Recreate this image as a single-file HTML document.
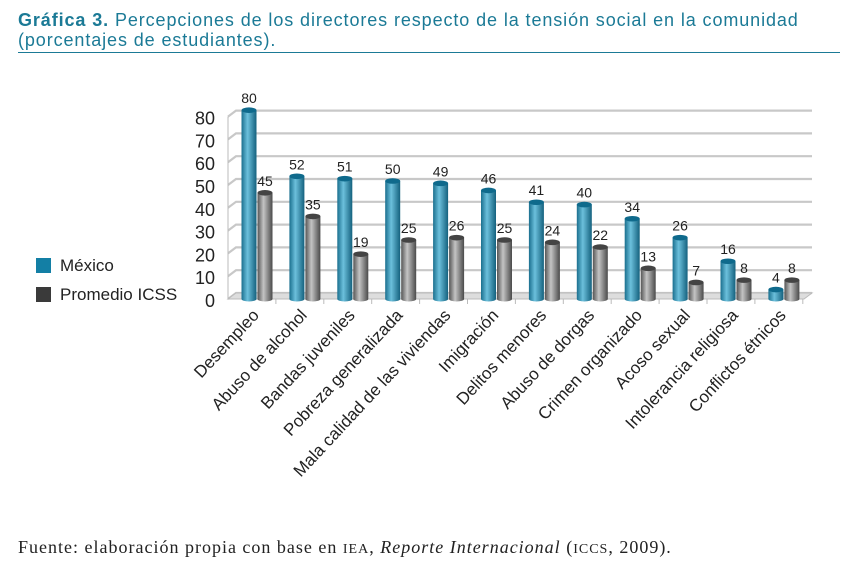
<!DOCTYPE html>
<html><head><meta charset="utf-8"><style>
body{margin:0;width:856px;height:566px;background:#fff;overflow:hidden;position:relative;font-family:"Liberation Sans",sans-serif}
.t{position:absolute;left:18px;top:10px;font-size:18px;line-height:20px;color:#1b7a96;letter-spacing:0.9px}
.rule{position:absolute;left:18px;top:52px;width:822px;height:1px;background:#1b7a96}
.foot{position:absolute;left:18px;top:537px;font-family:"Liberation Serif",serif;font-size:18px;color:#222;letter-spacing:1px}
</style></head><body>
<div class="t"><b>Gráfica 3.</b> Percepciones de los directores respecto de la tensión social en la comunidad<br>(porcentajes de estudiantes).</div>
<div class="rule"></div>
<svg id="c" width="856" height="566" style="position:absolute;left:0;top:0">
<defs>
<linearGradient id="gb" x1="0" x2="1"><stop offset="0" stop-color="#1a6f8e"/><stop offset="0.4" stop-color="#6cc0dc"/><stop offset="1" stop-color="#14617e"/></linearGradient>
<linearGradient id="gg" x1="0" x2="1"><stop offset="0" stop-color="#555"/><stop offset="0.4" stop-color="#c4c4c4"/><stop offset="1" stop-color="#4a4a4a"/></linearGradient>
</defs>
</svg>
<div class="foot">Fuente: elaboración propia con base en <span style="font-size:14px">IEA</span>, <i>Reporte Internacional</i> (<span style="font-size:14px">ICCS</span>, 2009).</div>
<script>
const categories=["Desempleo","Abuso de alcohol","Bandas juveniles","Pobreza generalizada","Mala calidad de las viviendas","Imigración","Delitos menores","Abuso de dorgas","Crimen organizado","Acoso sexual","Intolerancia religiosa","Conflictos étnicos"];
const mexico=[80,52,51,50,49,46,41,40,34,26,16,4];
const icss=[45,35,19,25,26,25,24,22,13,7,8,8];
const ticks=[0,10,20,30,40,50,60,70,80];
const seriesNames=["México","Promedio ICSS"];
const svg=document.getElementById('c');const NS="http://www.w3.org/2000/svg";
function mk(t,a,p){const e=document.createElementNS(NS,t);for(const k in a)e.setAttribute(k,a[k]);(p||svg).appendChild(e);return e;}
const base=299,sc=2.36,x0=228,step=47.9,dx=8,dy=-6;
const gs=2.28;
const y=v=>base-v*gs;
ticks.forEach(v=>{
 const g=mk('polyline',{points:`${x0},${y(v)} ${x0+dx},${y(v)+dy} 812,${y(v)+dy}`,fill:'none',stroke:'#c8c8c8','stroke-width':2.2});
 
 const t=mk('text',{x:215,y:y(v)+8,'text-anchor':'end','font-size':18,fill:'#222'});t.textContent=v;
 
});
mk('line',{x1:x0,y1:y(0),x2:x0,y2:y(80),stroke:'#bbb'});
const fl=mk('polygon',{points:`${x0},${base} ${x0+dx},${base+dy} 812,${base+dy} 804,${base}`,fill:'#ddd',stroke:'#bbb'});

function bar(cx,v,fill,top,name){
 const w=15,h=v*sc,yt=base-h;
 const r=mk('path',{d:`M${cx-w/2},${yt} L${cx-w/2},${base} A${w/2},2.5 0 0 0 ${cx+w/2},${base} L${cx+w/2},${yt} Z`,fill:fill});
 
 mk('ellipse',{cx:cx,cy:yt,rx:w/2,ry:2.8,fill:top});
 const t=mk('text',{x:cx,y:yt-7,'text-anchor':'middle','font-size':14,fill:'#222'});t.textContent=v;
 
}
categories.forEach((c,i)=>{
 const cx=249+i*step;
 bar(cx,mexico[i],'url(#gb)','#0f6a8c','bar-mexico');
 bar(cx+16,icss[i],'url(#gg)','#444','bar-icss');
 const tx=x0+(i+0.5)*step+8,ty=316;
 const t=mk('text',{x:tx,y:ty,'text-anchor':'end','font-size':17,fill:'#222',transform:`rotate(-47 ${tx} ${ty})`});t.textContent=c;
 
 mk('line',{x1:x0+(i+1)*step,y1:base,x2:x0+(i+1)*step,y2:base+5,stroke:'#bbb'});
});
seriesNames.forEach((n,i)=>{
 const yy=258+i*29;
 const r=mk('rect',{x:36,y:yy,width:15,height:15,fill:i?'#3a3a3a':'#137fa5'});
 
 const t=mk('text',{x:60,y:yy+13,'font-size':17,fill:'#222'});t.textContent=n;
 
});
</script>
</body></html>
